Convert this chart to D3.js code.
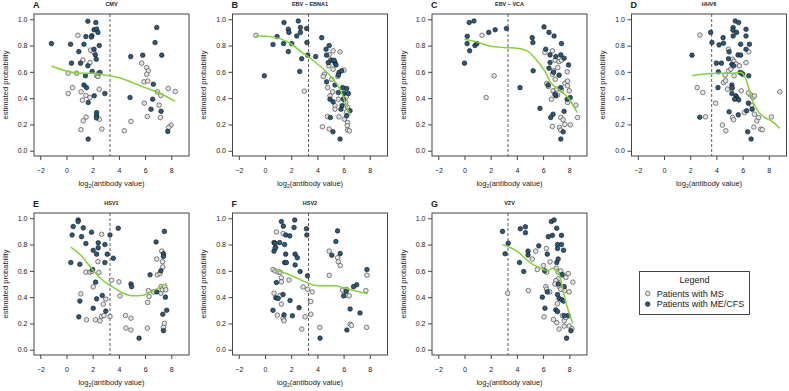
<!DOCTYPE html>
<html>
<head>
<meta charset="utf-8">
<script src="https://cdn.jsdelivr.net/npm/d3@7"></script>
<style>
  body { margin: 0; background: #fff; }
  svg { font-family: "Liberation Sans", Arial, sans-serif; }
  .tick text { fill: #222; }
</style>
</head>
<body>
<div id="chart"></div>
<script>
// panel info
const panelLetters = ["A", "B", "C", "D", "E", "F", "G"];
const panelTitles = ["CMV", "EBV \u2013 EBNA1", "EBV \u2013 VCA", "HHV6", "HSV1", "HSV2", "VZV"];
const cutoffs = [3.32, 3.32, 3.32, 3.64, 3.32, 3.32, 3.32];
const xTicks = [-2, 0, 2, 4, 6, 8];
const yTicks = [0, 0.2, 0.4, 0.6, 0.8, 1.0];
const legendLabels = ["Patients with MS", "Patients with ME/CFS"];

// CMV
const cmvMS = [[0.87,0.878],[1.84,0.765],[2.1,0.747],[1.79,0.671],[1.25,0.69],[0.77,0.59],[0.13,0.59],[2.3,0.57],[2.4,0.565],[2.45,0.59],
  [0.46,0.48],[0.13,0.435],[1.12,0.448],[1.48,0.42],[1.79,0.405],[2.5,0.468],[1.22,0.385],[1.5,0.256],[1.28,0.228],[2.5,0.24],[1.1,0.16],[2.7,0.165],
  [5.74,0.666],[6.12,0.633],[6.25,0.608],[6.12,0.582],[5.92,0.524],[6.2,0.53],[6.94,0.448],[7.2,0.42],[7.76,0.473],[8.3,0.45],[5.94,0.362],
  [7.07,0.347],[6.17,0.26],[7.17,0.253],[4.92,0.223],[4.41,0.152],[7.98,0.195],[7.8,0.177]];
const cmvME = [[-1.15,0.815],[0.31,0.81],[0.38,0.666],[0.94,0.754],[1.07,0.666],[1.33,0.81],[1.63,0.985],[2.24,0.975],[1.48,0.868],[1.94,0.875],
  [1.9,0.865],[2.1,0.92],[2.3,0.925],[2.4,0.9],[2.5,0.8],[2.1,0.772],[2.2,0.729],[2.27,0.696],[1.63,0.646],[1.96,0.603],[1.45,0.57],[2.55,0.595],
  [1.33,0.5],[1.53,0.48],[2.12,0.418],[2.93,0.435],[1.66,0.367],[2.3,0.29],[2.3,0.27],[2.28,0.25],[1.66,0.089],
  [4.9,0.716],[5.82,0.727],[6.63,0.506],[6.89,0.937],[6.76,0.823],[7.27,0.727],[4.85,0.405],[6.58,0.392],[6.45,0.316],[7.22,0.3],[7.73,0.147]];
const cmvFit = [[-1.15,0.645],[0,0.607],[1,0.59],[2,0.59],[3,0.575],[4,0.555],[5,0.52],[6,0.48],[7,0.443],[8.3,0.375]];

// EBV - EBNA1
const ebnaMS = [[-0.69,0.878],[3.0,0.453],[5.73,0.752],[5.2,0.76],[4.9,0.73],[4.88,0.646],[5.2,0.62],[6.03,0.613],[4.53,0.582],[4.45,0.565],
  [5.55,0.565],[5.09,0.544],[4.78,0.48],[5.17,0.448],[4.96,0.418],[5.6,0.392],[5.34,0.342],[5.34,0.316],[6.16,0.367],[6.3,0.33],[6.23,0.296],
  [5.65,0.258],[4.76,0.26],[6.06,0.24],[6.31,0.215],[6.28,0.19],[4.38,0.182],[4.9,0.165],[6.31,0.157],[6.44,0.152],[6.06,0.405],[5.0,0.69],[6.2,0.41]];
const ebnaME = [[1.45,0.975],[2.54,0.987],[1.78,0.924],[1.83,0.9],[2.7,0.937],[2.7,0.9],[2.42,0.873],[3.18,0.93],[1.42,0.815],[0.61,0.808],
  [2.04,0.815],[0.92,0.868],[1.78,0.754],[2.8,0.7],[3.2,0.823],[3.26,0.727],[3.87,0.716],[-0.05,0.57],[2.65,0.603],
  [4.33,0.86],[4.66,0.772],[4.9,0.8],[4.7,0.727],[4.83,0.67],[5.09,0.688],[5.34,0.67],[5.42,0.653],[5.27,0.688],[5.65,0.595],[5.85,0.608],
  [5.6,0.575],[4.7,0.524],[5.34,0.5],[5.93,0.48],[6.23,0.473],[6.03,0.438],[6.36,0.435],[5.6,0.443],[5.98,0.392],[4.96,0.392],[5.2,0.372],
  [5.88,0.342],[5.8,0.316],[6.49,0.304],[6.23,0.266],[4.99,0.253],[5.19,0.144],[5.73,0.089]];
const ebnaFit = [[-0.69,0.875],[0.5,0.866],[1.78,0.825],[2.8,0.75],[3.56,0.696],[4.33,0.633],[5.09,0.557],[5.73,0.468],[6.23,0.342],[6.49,0.266]];

// EBV - VCA
const vcaMS = [[1.34,0.878],[2.26,0.57],[1.65,0.405],
  [6.71,0.76],[6.92,0.688],[7.22,0.678],[7.4,0.688],[7.12,0.633],[6.79,0.608],[6.71,0.582],[7.84,0.6],[6.92,0.544],[6.27,0.511],[6.4,0.489],
  [6.76,0.456],[7.04,0.468],[7.4,0.463],[7.66,0.514],[7.86,0.53],[7.86,0.494],[7.99,0.456],[6.63,0.392],[7.1,0.423],[7.86,0.367],[8.5,0.347],
  [8.63,0.253],[7.35,0.253],[7.53,0.235],[7.66,0.2],[8.07,0.197],[7.25,0.177],[7.35,0.157],[6.71,0.185],[6.14,0.747]];
const vcaME = [[0.0,0.666],[0.2,0.815],[0.21,0.87],[0.39,0.76],[0.36,0.975],[0.72,0.987],[0.8,0.8],[0.95,0.815],[1.85,0.9],[2.34,0.92],[3.2,0.93],
  [4.24,0.48],[5.17,0.86],[5.22,0.823],[5.24,0.608],[5.76,0.322],[6.07,0.942],[6.2,0.772],[6.45,0.9],[6.84,0.873],[6.53,0.729],[6.97,0.716],
  [7.35,0.729],[7.4,0.815],[7.6,0.704],[7.94,0.653],[6.53,0.671],[6.79,0.597],[6.45,0.628],[7.22,0.575],[6.38,0.5],[6.97,0.418],[7.35,0.48],
  [7.84,0.392],[8.07,0.405],[6.76,0.278],[6.58,0.253],[7.6,0.3],[7.53,0.144],[7.35,0.089],[6.9,0.43]];
const vcaFit = [[0,0.848],[0.92,0.828],[1.95,0.797],[2.98,0.785],[4.0,0.78],[4.78,0.76],[5.55,0.683],[6.12,0.608],[6.58,0.519],[7.35,0.456],[8.0,0.392],[8.6,0.29]];

// HHV6
const hhvMS = [[2.74,0.88],[3.17,0.258],[2.53,0.48],[2.96,0.443],[3.94,0.362],[4.46,0.195],[4.72,0.152],[4.92,0.772],[5.23,0.696],[5.33,0.68],
  [5.5,0.66],[5.75,0.646],[4.92,0.608],[4.66,0.575],[4.54,0.519],[4.7,0.532],[4.85,0.468],[5.18,0.473],[5.9,0.456],[6.26,0.67],[6.47,0.752],
  [6.6,0.425],[6.78,0.405],[6.9,0.418],[6.7,0.347],[6.9,0.278],[6.13,0.291],[5.23,0.253],[5.31,0.235],[7.09,0.228],[7.22,0.253],[7.37,0.165],
  [7.5,0.16],[6.86,0.18],[8.2,0.258],[8.84,0.448],[5.96,0.592],[5.1,0.62],[5.35,0.57],[6.45,0.44]];
const hhvME = [[2.14,0.727],[2.73,0.255],[3.56,0.9],[3.66,0.823],[4.0,0.666],[4.38,0.666],[4.2,0.805],[4.51,0.86],[4.54,0.818],[4.15,0.6],
  [4.12,0.48],[4.97,0.296],[5.44,0.987],[5.7,0.975],[5.28,0.937],[5.26,0.917],[5.54,0.9],[5.28,0.873],[6.26,0.924],[6.26,0.873],[6.52,0.81],
  [5.85,0.81],[6.26,0.772],[4.97,0.752],[5.65,0.729],[5.85,0.727],[4.92,0.7],[5.18,0.658],[5.31,0.646],[5.8,0.595],[6.0,0.582],[6.47,0.57],
  [5.18,0.5],[5.2,0.48],[5.18,0.435],[5.49,0.418],[5.57,0.4],[5.39,0.392],[5.7,0.387],[6.44,0.362],[6.73,0.316],[6.31,0.304],[5.67,0.273],
  [6.39,0.144],[6.65,0.089]];
const hhvFit = [[2.14,0.57],[2.91,0.582],[4.2,0.59],[5.23,0.59],[5.9,0.595],[6.2,0.555],[6.52,0.46],[6.8,0.37],[7.1,0.31],[7.6,0.26],[8.3,0.22],[8.84,0.17]];

// HSV1
const hsv1MS = [[2.68,0.878],[1.48,0.59],[1.79,0.59],[2.47,0.588],[1.96,0.597],[2.4,0.67],[2.04,0.478],[1.1,0.425],[1.53,0.228],[2.22,0.228],
  [2.55,0.22],[2.68,0.253],[2.86,0.26],[2.81,0.347],[3.0,0.385],[3.32,0.253],[3.44,0.529],[4.0,0.516],[4.08,0.41],[4.5,0.26],[4.92,0.24],
  [4.54,0.165],[4.92,0.15],[6.17,0.165],[6.2,0.36],[6.25,0.45],[6.3,0.405],[6.63,0.44],[6.89,0.69],[6.94,0.57],[7.14,0.58],[7.27,0.75],
  [7.32,0.67],[7.35,0.63],[7.22,0.48],[7.2,0.43],[7.32,0.456],[7.5,0.478],[7.58,0.456],[7.47,0.2],[7.4,0.17]];
const hsv1ME = [[0.51,0.937],[0.89,0.987],[0.89,0.975],[0.43,0.873],[1.15,0.86],[1.28,0.927],[1.91,0.894],[1.48,0.808],[2.42,0.813],[2.42,0.775],
  [2.04,0.756],[2.3,0.727],[2.93,0.8],[3.11,0.727],[3.32,0.873],[3.95,0.924],[3.57,0.696],[2.93,0.663],[0.33,0.663],[1.02,0.65],[1.99,0.61],
  [2.22,0.514],[2.73,0.413],[2.3,0.387],[1.02,0.37],[2.04,0.316],[3.0,0.294],[0.94,0.25],[4.92,0.5],[4.97,0.48],[5.54,0.088],[6.84,0.82],
  [7.47,0.9],[6.38,0.57],[7.4,0.73],[7.4,0.71],[7.2,0.6],[6.89,0.44],[7.55,0.4],[7.65,0.3],[7.35,0.27],[7.4,0.145]];
const hsv1Fit = [[0.33,0.78],[1.28,0.7],[2.04,0.6],[2.81,0.525],[3.57,0.475],[4.34,0.43],[5.1,0.41],[5.87,0.415],[6.63,0.45],[7.65,0.505]];

// HSV2
const hsv2MS = [[0.61,0.61],[0.74,0.77],[0.87,0.896],[1.38,0.884],[0.77,0.6],[1.0,0.59],[1.15,0.59],[1.25,0.548],[1.25,0.516],[1.84,0.53],
  [0.69,0.43],[1.15,0.413],[1.25,0.347],[0.94,0.263],[1.38,0.238],[1.45,0.22],[2.91,0.478],[3.24,0.46],[3.6,0.44],[3.5,0.367],[3.5,0.27],
  [3.06,0.25],[2.81,0.157],[4.18,0.17],[4.9,0.566],[4.9,0.75],[5.54,0.7],[5.59,0.67],[5.74,0.64],[5.92,0.453],[6.17,0.415],[6.43,0.41],
  [6.2,0.46],[6.5,0.195],[6.6,0.185],[7.7,0.45],[7.78,0.567],[7.75,0.17]];
const hsv2ME = [[1.25,0.975],[2.27,0.987],[1.4,0.94],[2.22,0.93],[3.16,0.92],[3.19,0.873],[1.58,0.873],[1.89,0.866],[0.69,0.815],[0.77,0.808],
  [1.12,0.815],[1.5,0.8],[0.69,0.75],[0.82,0.777],[1.58,0.727],[2.3,0.727],[2.47,0.7],[1.5,0.663],[1.63,0.663],[2.3,0.645],[2.68,0.595],
  [3.24,0.562],[0.87,0.511],[1.38,0.42],[0.82,0.395],[1.91,0.375],[2.6,0.32],[0.61,0.3],[2.09,0.258],[4.2,0.088],[6.25,0.15],[5.41,0.823],
  [5.54,0.904],[5.1,0.719],[5.74,0.731],[6.0,0.41],[6.2,0.445],[6.5,0.31],[7.0,0.494],[6.76,0.48],[7.25,0.28],[7.78,0.61],[1.0,0.39],[1.45,0.265]];
const hsv2Fit = [[0.61,0.61],[1.45,0.585],[2.22,0.555],[2.98,0.52],[3.75,0.49],[4.52,0.485],[5.28,0.487],[6.05,0.47],[6.81,0.45],[7.83,0.425]];

// VZV
const vzvMS = [[3.29,0.43],[4.88,0.45],[5.17,0.69],[5.43,0.75],[5.55,0.61],[6.02,0.64],[6.25,0.77],[6.53,0.668],[6.27,0.59],[6.2,0.48],
  [6.27,0.46],[6.5,0.44],[6.07,0.25],[7.15,0.59],[7.35,0.6],[7.53,0.57],[7.74,0.55],[7.92,0.58],[7.17,0.54],[7.22,0.48],[6.97,0.525],
  [7.35,0.46],[7.64,0.45],[7.99,0.44],[8.27,0.514],[7.1,0.35],[7.48,0.26],[7.61,0.22],[7.74,0.245],[7.61,0.18],[7.04,0.206],[6.79,0.23],
  [7.22,0.157],[7.99,0.18],[8.2,0.16],[6.9,0.5],[7.0,0.62]];
const vzvME = [[2.9,0.9],[3.1,0.73],[3.34,0.81],[4.26,0.92],[4.65,0.935],[4.65,0.89],[4.2,0.663],[4.52,0.595],[4.85,0.75],[4.85,0.72],
  [5.67,0.79],[6.4,0.86],[6.63,0.975],[6.84,0.987],[6.71,0.87],[7.04,0.924],[7.1,0.8],[7.1,0.77],[7.4,0.87],[7.4,0.8],[7.56,0.757],
  [6.32,0.727],[7.04,0.663],[7.15,0.69],[6.12,0.6],[6.32,0.44],[5.94,0.4],[6.14,0.316],[6.97,0.303],[7.1,0.29],[7.1,0.42],[7.22,0.39],
  [7.43,0.38],[7.56,0.37],[7.61,0.48],[7.43,0.57],[7.17,0.5],[7.92,0.26],[7.61,0.26],[8.12,0.145],[7.79,0.088]];
const vzvFit = [[2.9,0.8],[4.0,0.75],[5.04,0.66],[5.8,0.62],[6.32,0.6],[6.71,0.62],[7.1,0.6],[7.35,0.53],[7.61,0.41],[8.12,0.24],[8.25,0.2]];

const msSets = [cmvMS, ebnaMS, vcaMS, hhvMS, hsv1MS, hsv2MS, vzvMS];
const meSets = [cmvME, ebnaME, vcaME, hhvME, hsv1ME, hsv2ME, vzvME];
const fitSets = [cmvFit, ebnaFit, vcaFit, hhvFit, hsv1Fit, hsv2Fit, vzvFit];

// layout
const width = 789;
const height = 391;
const colLeft = [34, 232.5, 432, 631.5];
const rowTop = [14, 213];
const boxW = 155;
const boxH = 142;

const colors = {
  me: "#295a7c",
  ms: "#e4e4e4",
  fit: "#84d23c",
  ink: "#222"
};

const svg = d3.select("#chart")
  .append("svg")
  .attr("width", width)
  .attr("height", height)
  .attr("viewBox", [0, 0, width, height]);

svg.append("rect")
  .attr("width", width)
  .attr("height", height)
  .attr("fill", "#fff");

panelLetters.forEach((letter, i) => drawPanel(i));
drawLegend();

function drawPanel(i) {
  const left = colLeft[i % 4];
  const top = rowTop[Math.floor(i / 4)];

  const x = d3.scaleLinear()
    .domain([-2.48, 9.35])
    .range([left, left + boxW]);

  const y = d3.scaleLinear()
    .domain([-0.04, 1.04])
    .range([top + boxH, top]);

  const g = svg.append("g").attr("class", "panel");

  // axes
  g.append("g")
    .attr("transform", `translate(0, ${top + boxH})`)
    .call(d3.axisBottom(x).tickValues(xTicks).tickSize(4).tickPadding(8)
      .tickFormat(d => d < 0 ? "\u2212" + Math.abs(d) : d))
    .call(a => a.select(".domain").remove())
    .call(a => a.selectAll(".tick line").attr("stroke", "#444"))
    .call(a => a.selectAll(".tick text").attr("font-size", 7));

  g.append("g")
    .attr("transform", `translate(${left}, 0)`)
    .call(d3.axisLeft(y).tickValues(yTicks).tickSize(4).tickPadding(2.5)
      .tickFormat(d3.format(".1f")))
    .call(a => a.select(".domain").remove())
    .call(a => a.selectAll(".tick line").attr("stroke", "#444"))
    .call(a => a.selectAll(".tick text").attr("font-size", 7));

  // box
  g.append("rect")
    .attr("x", left)
    .attr("y", top)
    .attr("width", boxW)
    .attr("height", boxH)
    .attr("fill", "none")
    .attr("stroke", "#444")
    .attr("stroke-width", 1);

  // cutoff
  g.append("line")
    .attr("x1", x(cutoffs[i]))
    .attr("x2", x(cutoffs[i]))
    .attr("y1", top)
    .attr("y2", top + boxH)
    .attr("stroke", "#333")
    .attr("stroke-width", 0.8)
    .attr("stroke-dasharray", "3,2");

  // points
  g.append("g")
    .selectAll("circle")
    .data(msSets[i])
    .join("circle")
    .attr("cx", d => x(d[0]))
    .attr("cy", d => y(d[1]))
    .attr("r", 2.3)
    .attr("fill", colors.ms)
    .attr("stroke", "#333")
    .attr("stroke-width", 0.6);

  g.append("g")
    .selectAll("circle")
    .data(meSets[i])
    .join("circle")
    .attr("cx", d => x(d[0]))
    .attr("cy", d => y(d[1]))
    .attr("r", 2.3)
    .attr("fill", colors.me)
    .attr("stroke", "#111")
    .attr("stroke-width", 0.6);

  // smoothed fit
  const line = d3.line()
    .x(d => x(d[0]))
    .y(d => y(d[1]))
    .curve(d3.curveMonotoneX);

  g.append("path")
    .datum(fitSets[i])
    .attr("d", line)
    .attr("fill", "none")
    .attr("stroke", colors.fit)
    .attr("stroke-width", 1.5);

  // labels
  g.append("text")
    .attr("x", left - 1)
    .attr("y", top - 6.5)
    .attr("font-size", 9)
    .attr("font-weight", "bold")
    .attr("fill", colors.ink)
    .text(panelLetters[i]);

  g.append("text")
    .attr("x", left + boxW / 2)
    .attr("y", top - 8)
    .attr("text-anchor", "middle")
    .attr("font-size", 5.5)
    .attr("font-weight", "bold")
    .attr("fill", colors.ink)
    .text(panelTitles[i]);

  const xl = g.append("text")
    .attr("x", left + boxW / 2)
    .attr("y", top + boxH + 30)
    .attr("text-anchor", "middle")
    .attr("font-size", 7.5)
    .attr("fill", colors.ink);
  xl.append("tspan").text("log");
  xl.append("tspan").attr("font-size", 5).attr("dy", 1.8).text("2");
  xl.append("tspan").attr("dy", -1.8).text("(antibody value)");

  g.append("text")
    .attr("transform", `translate(${left - 26.5}, ${top + boxH / 2}) rotate(-90)`)
    .attr("text-anchor", "middle")
    .attr("font-size", 7.5)
    .attr("fill", colors.ink)
    .text("estimated probability");
}

function drawLegend() {
  const lx = 639.5;
  const ly = 271.5;
  const lw = 110;
  const lh = 43;

  const g = svg.append("g").attr("class", "legend");

  g.append("rect")
    .attr("x", lx)
    .attr("y", ly)
    .attr("width", lw)
    .attr("height", lh)
    .attr("fill", "#fff")
    .attr("stroke", "#444")
    .attr("stroke-width", 1);

  g.append("text")
    .attr("x", lx + lw / 2)
    .attr("y", ly + 11.5)
    .attr("text-anchor", "middle")
    .attr("font-size", 9)
    .attr("fill", colors.ink)
    .text("Legend");

  const rows = g.selectAll(".item")
    .data(legendLabels)
    .join("g")
    .attr("class", "item")
    .attr("transform", (d, i) => `translate(${lx + 8.2}, ${ly + 22 + i * 10.6})`);

  rows.append("circle")
    .attr("r", 2.3)
    .attr("fill", (d, i) => i === 0 ? colors.ms : colors.me)
    .attr("stroke", (d, i) => i === 0 ? "#333" : "#111")
    .attr("stroke-width", 0.6);

  rows.append("text")
    .attr("x", 9)
    .attr("y", 3.2)
    .attr("font-size", 9)
    .attr("fill", colors.ink)
    .text(d => d);
}
</script>
</body>
</html>
